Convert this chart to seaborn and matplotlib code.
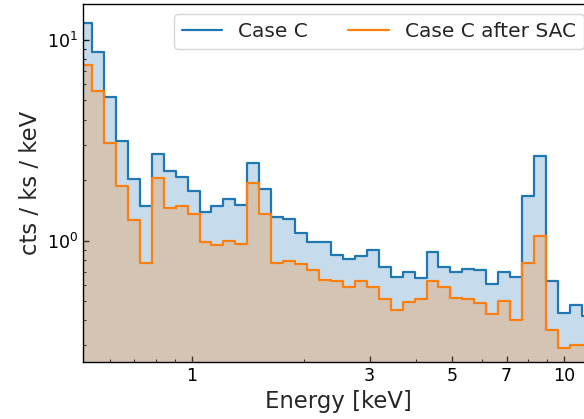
import numpy as np
import pandas as pd
import matplotlib
matplotlib.use("Agg")
import matplotlib.pyplot as plt
from matplotlib.lines import Line2D
from matplotlib.ticker import LogLocator, NullFormatter, FixedLocator, FixedFormatter
import seaborn as sns

# ---- data ----
edge_min, edge_max, n_bins = 0.5, 12.0, 43
bin_edges = np.logspace(np.log10(edge_min), np.log10(edge_max), n_bins + 1)

case_c = [12.2, 8.74, 5.22, 3.14, 2.02, 1.49, 2.70, 2.23, 2.08, 1.77,
          1.385, 1.49, 1.61, 1.51, 2.43, 1.81, 1.31, 1.28, 1.09, 0.98,
          0.98, 0.849, 0.808, 0.839, 0.899, 0.742, 0.657, 0.696, 0.650, 0.881,
          0.734, 0.693, 0.72, 0.715, 0.608, 0.70, 0.657, 1.66, 2.65, 0.632,
          0.433, 0.475, 0.423]
case_c_sac = [7.5, 5.59, 3.06, 1.86, 1.26, 0.774, 2.04, 1.45, 1.49, 1.35,
              0.98, 0.955, 1.0, 0.966, 1.93, 1.36, 0.772, 0.795, 0.765, 0.709,
              0.637, 0.630, 0.586, 0.630, 0.586, 0.512, 0.45, 0.493, 0.514, 0.632,
              0.588, 0.516, 0.512, 0.488, 0.43, 0.502, 0.40, 0.774, 1.055, 0.359,
              0.293, 0.30, 0.30]
series_labels = ["Case C", "Case C after SAC"]
x_ticks = [1, 3, 5, 7, 10]
x_ticklabels = ["1", "3", "5", "7", "10"]

centers = np.sqrt(bin_edges[:-1] * bin_edges[1:])
df = pd.DataFrame({
    "energy": np.concatenate([centers, centers]),
    "rate": np.concatenate([case_c, case_c_sac]),
    "case": [series_labels[0]] * len(centers) + [series_labels[1]] * len(centers),
})

# ---- plot ----
sns.set_style("ticks")
plt.rcParams["font.family"] = ["DejaVu Sans"]

fig = plt.figure(figsize=(5.84, 4.19), dpi=100)
ax = fig.add_axes([0.1426, 0.1368, 0.8741, 0.8537])

colors = ["#1f77b4", "#ff7f0e"]
for lab, col in zip(series_labels, colors):
    sub = df[df["case"] == lab]
    sns.histplot(data=sub, x="energy", weights="rate", bins=list(bin_edges),
                 element="step", fill=True, alpha=0.25, color=col,
                 linewidth=1.6, ax=ax)

ax.set_xscale("log")
ax.set_yscale("log")
ax.set_xlim(0.51, 12)
ax.set_ylim(0.249, 15.1)

ax.xaxis.set_major_locator(FixedLocator(x_ticks))
ax.xaxis.set_major_formatter(FixedFormatter(x_ticklabels))
ax.xaxis.set_minor_locator(LogLocator(base=10, subs=np.arange(2, 10)))
ax.xaxis.set_minor_formatter(NullFormatter())

ax.tick_params(which="both", direction="in", top=False, right=False,
               labelsize=12.6, colors="black")
ax.tick_params(which="major", length=4.5, width=1.0)
ax.tick_params(which="minor", length=2.5, width=0.8)

for s in ax.spines.values():
    s.set_color("black")
    s.set_linewidth(1.0)

ax.set_xlabel("Energy [keV]", fontsize=16.4)
ax.set_ylabel("cts / ks / keV", fontsize=16.4)

handles = [Line2D([], [], color=c, lw=1.6) for c in colors]
ax.legend(handles, series_labels, loc="upper right", ncol=2, fontsize=14.5,
          frameon=True)

fig.savefig("out.png", dpi=100)
